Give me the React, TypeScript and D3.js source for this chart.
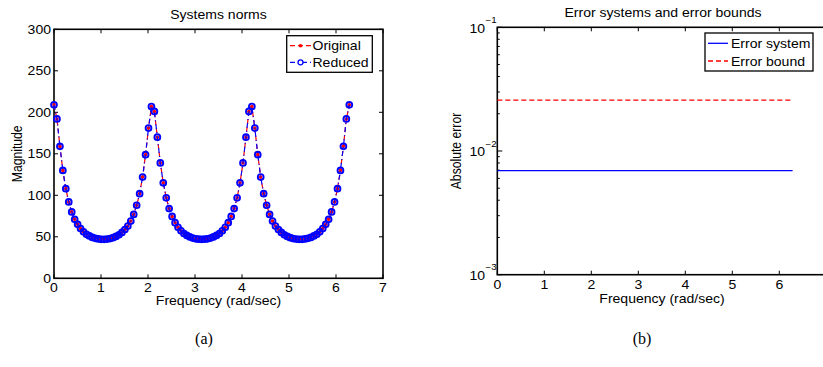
import React from "react";
import * as d3 from "d3";

// frequency grid (rad/sec)
const freq = [
  0.000, 0.063, 0.126, 0.188, 0.251, 0.314, 0.377, 0.440, 0.503, 0.565,
  0.628, 0.691, 0.754, 0.817, 0.880, 0.942, 1.005, 1.068, 1.131, 1.194,
  1.257, 1.319, 1.382, 1.445, 1.508, 1.571, 1.634, 1.696, 1.759, 1.822,
  1.885, 1.948, 2.011, 2.073, 2.136, 2.199, 2.262, 2.325, 2.388, 2.450,
  2.513, 2.576, 2.639, 2.702, 2.765, 2.827, 2.890, 2.953, 3.016, 3.079,
  3.142, 3.204, 3.267, 3.330, 3.393, 3.456, 3.519, 3.581, 3.644, 3.707,
  3.770, 3.833, 3.896, 3.958, 4.021, 4.084, 4.147, 4.210, 4.273, 4.335,
  4.398, 4.461, 4.524, 4.587, 4.650, 4.712, 4.775, 4.838, 4.901, 4.964,
  5.027, 5.089, 5.152, 5.215, 5.278, 5.341, 5.404, 5.466, 5.529, 5.592,
  5.655, 5.718, 5.781, 5.843, 5.906, 5.969, 6.032, 6.095, 6.158, 6.220,
  6.283,
];

const originalMag = [
  209, 192, 159, 130, 108, 92, 80, 71, 65, 60,
  56, 53, 51, 49.3, 48.2, 47.4, 47, 47, 47.3, 47.9,
  49, 50.5, 52.5, 55.3, 58.8, 63, 69, 77, 88, 102,
  122, 149, 181, 207, 201, 170, 139, 115, 97, 84,
  74.5, 67, 61.5, 57.3, 54, 51.6, 49.8, 48.5, 47.6, 47.1,
  47, 47.1, 47.6, 48.5, 49.8, 51.6, 54, 57.3, 61.5, 67,
  74.5, 84, 97, 115, 139, 170, 201, 207, 181, 149,
  122, 102, 88, 77, 69, 63, 58.8, 55.3, 52.5, 50.5,
  49, 47.9, 47.3, 47, 47, 47.4, 48.2, 49.3, 51, 53,
  56, 60, 65, 71, 80, 92, 108, 130, 159, 192,
  209,
];
// the reduced model lies on top of the original everywhere
const reducedMag = originalMag;

const errFreq = [0, 6.283];
const errorSystem = [0.00694, 0.00694];
const errorBound = [0.0258, 0.0258];

const xTicks = [0, 1, 2, 3, 4, 5, 6, 7];
const magTicks = [0, 50, 100, 150, 200, 250, 300];
const logTicks = [1e-3, 1e-2, 1e-1];
const logExps = ["\u22123", "\u22122", "\u22121"];

const FONT = "Liberation Sans, Arial, Helvetica, sans-serif";
const FS = 12.2;
const SX = 1.15;
const RED = "#ff0000";
const BLUE = "#0000ff";

function Label({ x, y, anchor = "start", size = FS, rotate = false, children }: any) {
  const tf = rotate
    ? `translate(${x},${y}) rotate(-90) scale(1,${SX})`
    : `translate(${x},${y}) scale(${SX},1)`;
  return (
    <text transform={tf} textAnchor={anchor} fontFamily={FONT} fontSize={size} fill="#000">
      {children}
    </text>
  );
}

export default function App() {
  // panel (a)
  const ax = d3.scaleLinear().domain([0, 7]).range([54, 383]);
  const ay = d3.scaleLinear().domain([0, 300]).range([278.3, 29.3]);
  // panel (b), its right edge falls just outside the picture
  const bx = d3.scaleLinear().domain([0, 7]).range([497.3, 826.3]);
  const by = d3.scaleLog().domain([1e-3, 1e-1]).range([274.7, 27.3]);

  const magPts = freq.map((f, i) => [f, originalMag[i]] as [number, number]);
  const redPts = freq.map((f, i) => [f, reducedMag[i]] as [number, number]);
  const lineA = d3.line<[number, number]>().x(d => ax(d[0])).y(d => ay(d[1]));
  const lineB = d3.line<[number, number]>().x(d => bx(d[0])).y(d => by(d[1]));

  const minor: number[] = [];
  [1e-3, 1e-2].forEach(dec => {
    for (let m = 2; m <= 9; m++) minor.push(dec * m);
  });

  const TL = 4;
  const [a0, a1] = ax.range();
  const [ab, at] = ay.range();
  const [b0, b1] = bx.range();
  const [bb, bt] = by.range();

  return (
    <svg width={823} height={367} style={{ position: "absolute", left: 0, top: 0, background: "#fff" }}>
      {/* ---------- panel (a) ---------- */}
      <Label x={218.5} y={19} anchor="middle">Systems norms</Label>
      <rect x={a0} y={at} width={a1 - a0} height={ab - at} fill="none" stroke="#000" strokeWidth={1.6} />
      {xTicks.map(t => (
        <g key={"ax" + t}>
          <line x1={ax(t)} x2={ax(t)} y1={ab} y2={ab - TL} stroke="#000" strokeWidth={1} />
          <line x1={ax(t)} x2={ax(t)} y1={at} y2={at + TL} stroke="#000" strokeWidth={1} />
          <Label x={ax(t)} y={291.5} anchor="middle">{t}</Label>
        </g>
      ))}
      {magTicks.map(t => (
        <g key={"ay" + t}>
          <line x1={a0} x2={a0 + TL} y1={ay(t)} y2={ay(t)} stroke="#000" strokeWidth={1} />
          <line x1={a1} x2={a1 - TL} y1={ay(t)} y2={ay(t)} stroke="#000" strokeWidth={1} />
          <Label x={51} y={ay(t) + 4.3} anchor="end">{t}</Label>
        </g>
      ))}
      <Label x={218.5} y={305} anchor="middle">Frequency (rad/sec)</Label>
      <Label x={21.5} y={153.8} anchor="middle" rotate>Magnitude</Label>

      <path d={lineA(magPts) || ""} fill="none" stroke={RED} strokeWidth={1.2} strokeDasharray="5,3" />
      {magPts.map((d, i) => (
        <circle key={"o" + i} cx={ax(d[0])} cy={ay(d[1])} r={1.8} fill={RED} />
      ))}
      <path d={lineA(redPts) || ""} fill="none" stroke={BLUE} strokeWidth={1.2} strokeDasharray="5,3,1,3" />
      {redPts.map((d, i) => (
        <circle key={"r" + i} cx={ax(d[0])} cy={ay(d[1])} r={2.9} fill="none" stroke={BLUE} strokeWidth={1.9} />
      ))}

      {/* legend (a) */}
      <rect x={286.7} y={35.7} width={85.6} height={36.6} fill="#fff" stroke="#000" strokeWidth={1.3} />
      <line x1={290} x2={311} y1={45.7} y2={45.7} stroke={RED} strokeWidth={1.2} strokeDasharray="5,3" />
      <circle cx={300.5} cy={45.7} r={1.8} fill={RED} />
      <Label x={312.5} y={50.2}>Original</Label>
      <line x1={290} x2={311} y1={62.3} y2={62.3} stroke={BLUE} strokeWidth={1.2} strokeDasharray="5,3,1,3" />
      <circle cx={300.5} cy={62.3} r={2.5} fill="#fff" stroke={BLUE} strokeWidth={1.3} />
      <Label x={312.5} y={66.8}>Reduced</Label>

      {/* ---------- panel (b) ---------- */}
      <Label x={663} y={17} anchor="middle">Error systems and error bounds</Label>
      <rect x={b0} y={bt} width={b1 - b0} height={bb - bt} fill="none" stroke="#000" strokeWidth={1.6} />
      {xTicks.map(t => (
        <g key={"bx" + t}>
          <line x1={bx(t)} x2={bx(t)} y1={bb} y2={bb - TL} stroke="#000" strokeWidth={1} />
          <line x1={bx(t)} x2={bx(t)} y1={bt} y2={bt + TL} stroke="#000" strokeWidth={1} />
          {bx(t) < 815 && <Label x={bx(t)} y={289} anchor="middle">{t}</Label>}
        </g>
      ))}
      {logTicks.map((t, i) => (
        <g key={"by" + t}>
          <line x1={b0} x2={b0 + TL + 1} y1={by(t)} y2={by(t)} stroke="#000" strokeWidth={1} />
          <Label x={485} y={by(t) + 5.3} anchor="end">10</Label>
          <Label x={485.5} y={by(t) - 4.5} size={8.5}>{logExps[i]}</Label>
        </g>
      ))}
      {minor.map(t => (
        <line key={"bm" + t} x1={b0} x2={b0 + 2.5} y1={by(t)} y2={by(t)} stroke="#000" strokeWidth={1} />
      ))}
      <Label x={662} y={303} anchor="middle">Frequency (rad/sec)</Label>
      <Label x={461} y={151} anchor="middle" rotate>Absolute error</Label>

      <path
        d={lineB(errFreq.map((f, i) => [f, errorSystem[i]] as [number, number])) || ""}
        fill="none" stroke={BLUE} strokeWidth={1.3}
      />
      <path
        d={lineB(errFreq.map((f, i) => [f, errorBound[i]] as [number, number])) || ""}
        fill="none" stroke={RED} strokeWidth={1.3} strokeDasharray="5,3"
      />

      {/* legend (b) */}
      <rect x={705} y={33} width={108} height={38} fill="#fff" stroke="#000" strokeWidth={1.3} />
      <line x1={708} x2={728} y1={43.3} y2={43.3} stroke={BLUE} strokeWidth={1.3} />
      <Label x={731} y={47.8}>Error system</Label>
      <line x1={708} x2={728} y1={61} y2={61} stroke={RED} strokeWidth={1.3} strokeDasharray="5,3" />
      <Label x={731} y={65.5}>Error bound</Label>

      {/* captions */}
      <text x={204} y={344} textAnchor="middle" fontFamily="Liberation Serif, Times New Roman, serif" fontSize={16}>(a)</text>
      <text x={642} y={344} textAnchor="middle" fontFamily="Liberation Serif, Times New Roman, serif" fontSize={16}>(b)</text>
    </svg>
  );
}
